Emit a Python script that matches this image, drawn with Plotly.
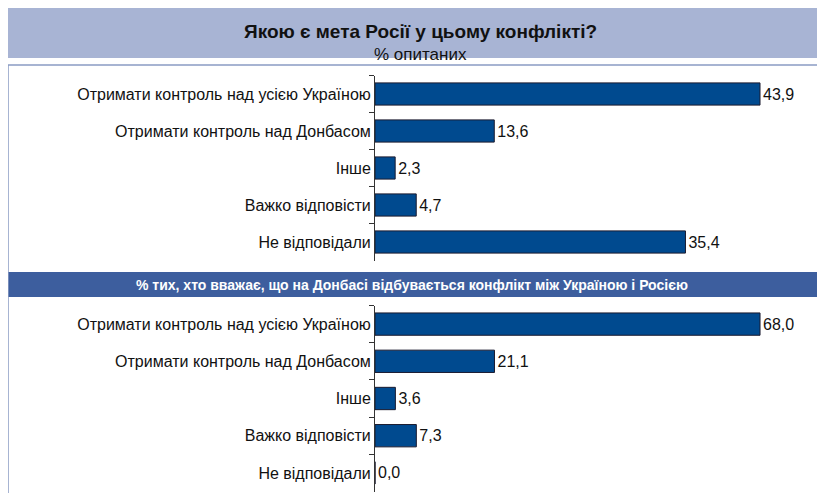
import plotly.graph_objects as go

categories = ["Отримати контроль над усією Україною", "Отримати контроль над Донбасом",
              "Інше", "Важко відповісти", "Не відповідали"]
all_values = [43.9, 13.6, 2.3, 4.7, 35.4]
donbas_values = [68.0, 21.1, 3.6, 7.3, 0.0]

title = "Якою є мета Росії у цьому конфлікті?"
subtitle = "% опитаних"
band_text = "% тих, хто вважає, що на Донбасі відбувається конфлікт між Україною і Росією"

W, H = 825, 493
OFF = 8  # page margin offset
font = "Liberation Sans, Arial"
bar_color = "#004a8f"


def py(px):
    return 1 - (px - OFF) / H


def pxx(px):
    return (px - OFF) / W


fig = go.Figure()
for vals, xa, ya in [(all_values, "x", "y"), (donbas_values, "x2", "y2")]:
    fig.add_trace(go.Bar(
        y=categories, x=vals, orientation="h", xaxis=xa, yaxis=ya,
        marker=dict(color=bar_color, line=dict(color="#1a1a2e", width=1)),
        text=[f"{v:.1f}".replace(".", ",") for v in vals],
        textposition="outside", cliponaxis=False,
        textfont=dict(size=16, color="#111", family=font),
        showlegend=False,
    ))

yaxis_common = dict(autorange="reversed", showline=True, linecolor="#333", linewidth=1,
                    ticks="outside", tickson="boundaries", ticklen=5, tickcolor="#333",
                    tickfont=dict(size=16, color="#111", family=font))

fig.update_layout(
    width=W, height=H, margin=dict(l=0, r=0, t=0, b=0),
    paper_bgcolor="white", plot_bgcolor="white", bargap=0.4,
    xaxis=dict(domain=[pxx(375), 1], range=[0, (W - 375 + OFF) / 8.77], visible=False),
    xaxis2=dict(domain=[pxx(375), 1], range=[0, (W - 375 + OFF) / 5.662], visible=False),
    yaxis=dict(domain=[py(260.5), py(75.5)], anchor="x", **yaxis_common),
    yaxis2=dict(domain=[py(491.5), py(305.5)], anchor="x2", **yaxis_common),
    shapes=[
        dict(type="rect", xref="paper", yref="paper", x0=0, x1=1, y0=py(58), y1=1,
             fillcolor="#a8b4d4", line=dict(width=0), layer="below"),
        dict(type="rect", xref="paper", yref="paper", x0=0, x1=1, y0=0, y1=py(65),
             fillcolor="rgba(0,0,0,0)", line=dict(color="#8a9cc4", width=1.5)),
        dict(type="rect", xref="paper", yref="paper", x0=0, x1=1, y0=py(297), y1=py(272),
             fillcolor="#3d5e9e", line=dict(width=0), layer="below"),
    ],
    annotations=[
        dict(text=f"<b>{title}</b>", xref="paper", yref="paper", x=pxx(420), y=py(19), showarrow=False,
             font=dict(size=19, color="#111", family=font)),
        dict(text=subtitle, xref="paper", yref="paper", x=pxx(420), y=py(43), showarrow=False,
             font=dict(size=17, color="#111", family=font)),
        dict(text=f"<b>{band_text}</b>", xref="paper", yref="paper", x=pxx(412), y=py(284.5), showarrow=False,
             font=dict(size=14, color="white", family=font)),
    ],
)

fig.write_html("out.html")
